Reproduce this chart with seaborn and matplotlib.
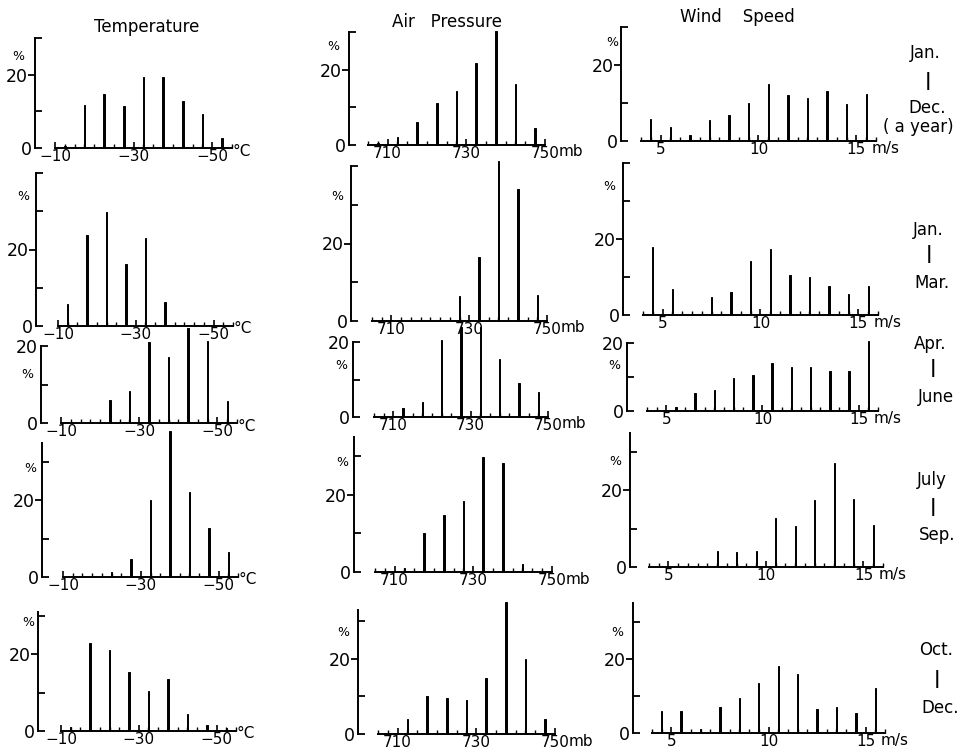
import numpy as np
import pandas as pd
import seaborn as sns
import matplotlib.pyplot as plt

# ---------------------------------------------------------------
# Data (frequency in %)
# ---------------------------------------------------------------
temp_bins = [-12.5, -17.5, -22.5, -27.5, -32.5, -37.5, -42.5, -47.5, -52.5]
temp_year = [0.6, 11.7, 14.8, 11.5, 19.4, 19.4, 12.9, 9.2, 2.8]
temp_jan_mar = [5.7, 23.9, 29.7, 16.3, 22.9, 6.3, 0, 0, 0]
temp_apr_jun = [0, 0, 6.0, 8.4, 21.1, 17.2, 24.7, 21.4, 5.8]
temp_jul_sep = [0, 0, 1.3, 4.6, 20.2, 38.2, 22.1, 12.9, 6.6]
temp_oct_dec = [1.0, 23.0, 21.0, 15.5, 10.5, 13.5, 4.5, 1.5, 0.8]

pres_bins = [707.5, 712.5, 717.5, 722.5, 727.5, 732.5, 737.5, 742.5, 747.5]
pres_year = [0.5, 2.0, 6.0, 11.1, 14.4, 21.8, 30.2, 16.2, 4.6]
pres_jan_mar = [0, 0, 0, 0, 6.4, 16.4, 41.2, 34.0, 6.7]
pres_apr_jun = [0, 2.4, 4.0, 20.6, 24.0, 24.0, 15.6, 9.0, 6.8]
pres_jul_sep = [0, 1.1, 10.1, 14.8, 18.3, 29.9, 28.2, 2.0, 0]
pres_oct_dec = [0, 4.0, 10.0, 9.5, 9.0, 15.0, 35.0, 20.0, 4.0]

wind_bins = [4.5, 5.5, 6.5, 7.5, 8.5, 9.5, 10.5, 11.5, 12.5, 13.5, 14.5, 15.5]
wind_year = [5.9, 3.7, 1.7, 5.5, 6.8, 10.1, 15.0, 12.2, 11.4, 13.1, 9.7, 12.4]
wind_jan_mar = [17.8, 6.8, 0.3, 4.8, 6.0, 14.2, 17.4, 10.5, 9.9, 7.5, 5.5, 7.5]
wind_apr_jun = [0, 1.3, 5.2, 6.3, 9.8, 10.5, 14.0, 12.8, 13.0, 11.8, 11.8, 20.6]
wind_jul_sep = [0, 0, 0, 4.1, 3.9, 4.1, 12.8, 10.6, 17.4, 27.2, 17.8, 11.0]
wind_oct_dec = [6.0, 6.0, 1.0, 7.0, 9.5, 13.5, 18.0, 16.0, 6.5, 7.0, 5.5, 12.0]

column_titles = ["Temperature", "Air   Pressure", "Wind    Speed"]
season_labels = [
    ["Jan.", "|", "Dec.", "( a year)"],
    ["Jan.", "|", "Mar."],
    ["Apr.", "|", "June"],
    ["July", "|", "Sep."],
    ["Oct.", "|", "Dec."],
]

# ---------------------------------------------------------------
# Layout (pixel geometry of the scanned panels)
# ---------------------------------------------------------------
W, H = 970, 749
# per row: (y_axis_x, x_start, x_end, y0, y_top, y_top_value) for T, P, W
geom = [
    [(35, 55, 232, 148, 38, 30), (349, 368, 545, 145, 32, 30), (621, 641, 876, 141, 27, 30)],
    [(36, 58, 233, 326, 173, 40), (351, 372, 547, 321, 166, 40), (623, 643, 878, 315, 163, 40)],
    [(41, 61, 237, 423, 346, 20), (353, 374, 548, 417, 342, 20), (627, 647, 878, 411, 343, 20)],
    [(42, 63, 238, 577, 443, 35), (354, 375, 552, 572, 437, 35), (630, 649, 883, 567, 433, 35)],
    [(38, 61, 236, 731, 612, 31), (358, 378, 555, 734, 610, 33), (633, 652, 885, 733, 603, 35)],
]
pct_pos = [
    [(18, 57), (333, 47), (612, 43)],
    [(23, 197), (337, 197), (609, 187)],
    [(27, 375), (341, 365), (614, 365)],
    [(30, 468), (342, 463), (615, 462)],
    [(28, 622), (343, 633), (617, 633)],
]
season_pos = [
    [(925, 53), (928, 81), (927, 108), (918, 127)],
    [(928, 230), (929, 254), (932, 283)],
    [(930, 344), (933, 368), (936, 397)],
    [(932, 480), (933, 507), (937, 535)],
    [(936, 650), (937, 679), (940, 708)],
]

columns = [
    dict(bins=temp_bins, xlim=(-10, -55), step=2.5,
         major=[-10, -30, -50], labels=["\u221210", "\u221230", "\u221250"],
         unit="°C", unit_dx=10, unit_dy=3),
    dict(bins=pres_bins, xlim=(705, 750), step=2.5,
         major=[710, 730, 750], labels=["710", "730", "750"],
         unit="mb", unit_dx=26, unit_dy=7),
    dict(bins=wind_bins, xlim=(4, 16), step=0.5,
         major=[5, 10, 15], labels=["5", "10", "15"],
         unit="m/s", unit_dx=10, unit_dy=7),
]
values = [
    [temp_year, pres_year, wind_year],
    [temp_jan_mar, pres_jan_mar, wind_jan_mar],
    [temp_apr_jun, pres_apr_jun, wind_apr_jun],
    [temp_jul_sep, pres_jul_sep, wind_jul_sep],
    [temp_oct_dec, pres_oct_dec, wind_oct_dec],
]

sns.set_theme(style="ticks")
plt.rcParams["font.family"] = ["DejaVu Sans"]
plt.rcParams["axes.linewidth"] = 1.4

fig = plt.figure(figsize=(W / 100, H / 100), dpi=100)
fig.patch.set_facecolor("white")


def fig_text(x, y, s, **kw):
    fig.text(x / W, 1 - y / H, s, ha="center", va="center", color="black", **kw)


for r in range(5):
    for c in range(3):
        yx, xs, xe, y0, yt, top = geom[r][c]
        col = columns[c]
        ax = fig.add_axes([xs / W, 1 - y0 / H, (xe - xs) / W, (y0 - yt) / H])
        ax.set_facecolor("none")

        df = pd.DataFrame({"x": col["bins"], "pct": values[r][c]})
        df = df[df["pct"] > 0]
        sns.barplot(data=df, x="x", y="pct", native_scale=True, width=0.07,
                    color="black", edgecolor="black", linewidth=0.7,
                    errorbar=None, ax=ax)
        for p in ax.patches:
            p.set_clip_on(False)

        ax.set_xlim(*col["xlim"])
        ax.set_ylim(0, top)
        ax.set(xlabel="", ylabel="")
        for s in ("top", "right"):
            ax.spines[s].set_visible(False)
        ax.spines["left"].set_position(("outward", (xs - yx) * 0.72))
        ax.spines["left"].set_color("black")
        ax.spines["bottom"].set_color("black")

        # x axis: small upward ticks, a few labels
        lo, hi = sorted(col["xlim"])
        ax.set_xticks(col["major"], labels=col["labels"])
        ax.set_xticks(np.arange(lo, hi + 0.01, col["step"]), minor=True)
        ax.tick_params(axis="x", which="major", direction="in", length=4,
                       width=1.2, labelsize=11, pad=0.5, colors="black")
        ax.tick_params(axis="x", which="minor", direction="in", length=3,
                       width=1.0, colors="black")

        # y axis: labelled 20 tick points out, the rest point in
        minor = [t for t in (0, 10, 30, 40) if t <= top]
        if top == 20:
            ax.set_yticks([])
            ax.set_yticks([0, 10, 20], labels=["0", "", "20"], minor=True)
        else:
            ax.set_yticks([20], labels=["20"])
            ax.set_yticks(minor, labels=["0"] + [""] * (len(minor) - 1), minor=True)
        ax.tick_params(axis="y", which="major", direction="out", length=5,
                       width=1.3, labelsize=12.5, pad=0.5, colors="black")
        ax.tick_params(axis="y", which="minor", direction="in", length=5,
                       width=1.3, labelsize=12.5, pad=2, colors="black")

        # unit after the last tick label
        fig_text(xe + col["unit_dx"], y0 + col["unit_dy"], col["unit"], fontsize=11)
        # percent sign
        px, py = pct_pos[r][c]
        fig_text(px, py, "%", fontsize=9)

    for (sx, sy), s in zip(season_pos[r], season_labels[r]):
        if s == "|":
            fig_text(sx, sy, s, fontsize=13, fontweight="bold")
        else:
            fig_text(sx, sy, s, fontsize=12)

for (tx, ty), t in zip([(147, 27), (447, 22), (737, 17)], column_titles):
    fig_text(tx, ty, t, fontsize=12)

fig.savefig("out.png", dpi=100, facecolor="white")
